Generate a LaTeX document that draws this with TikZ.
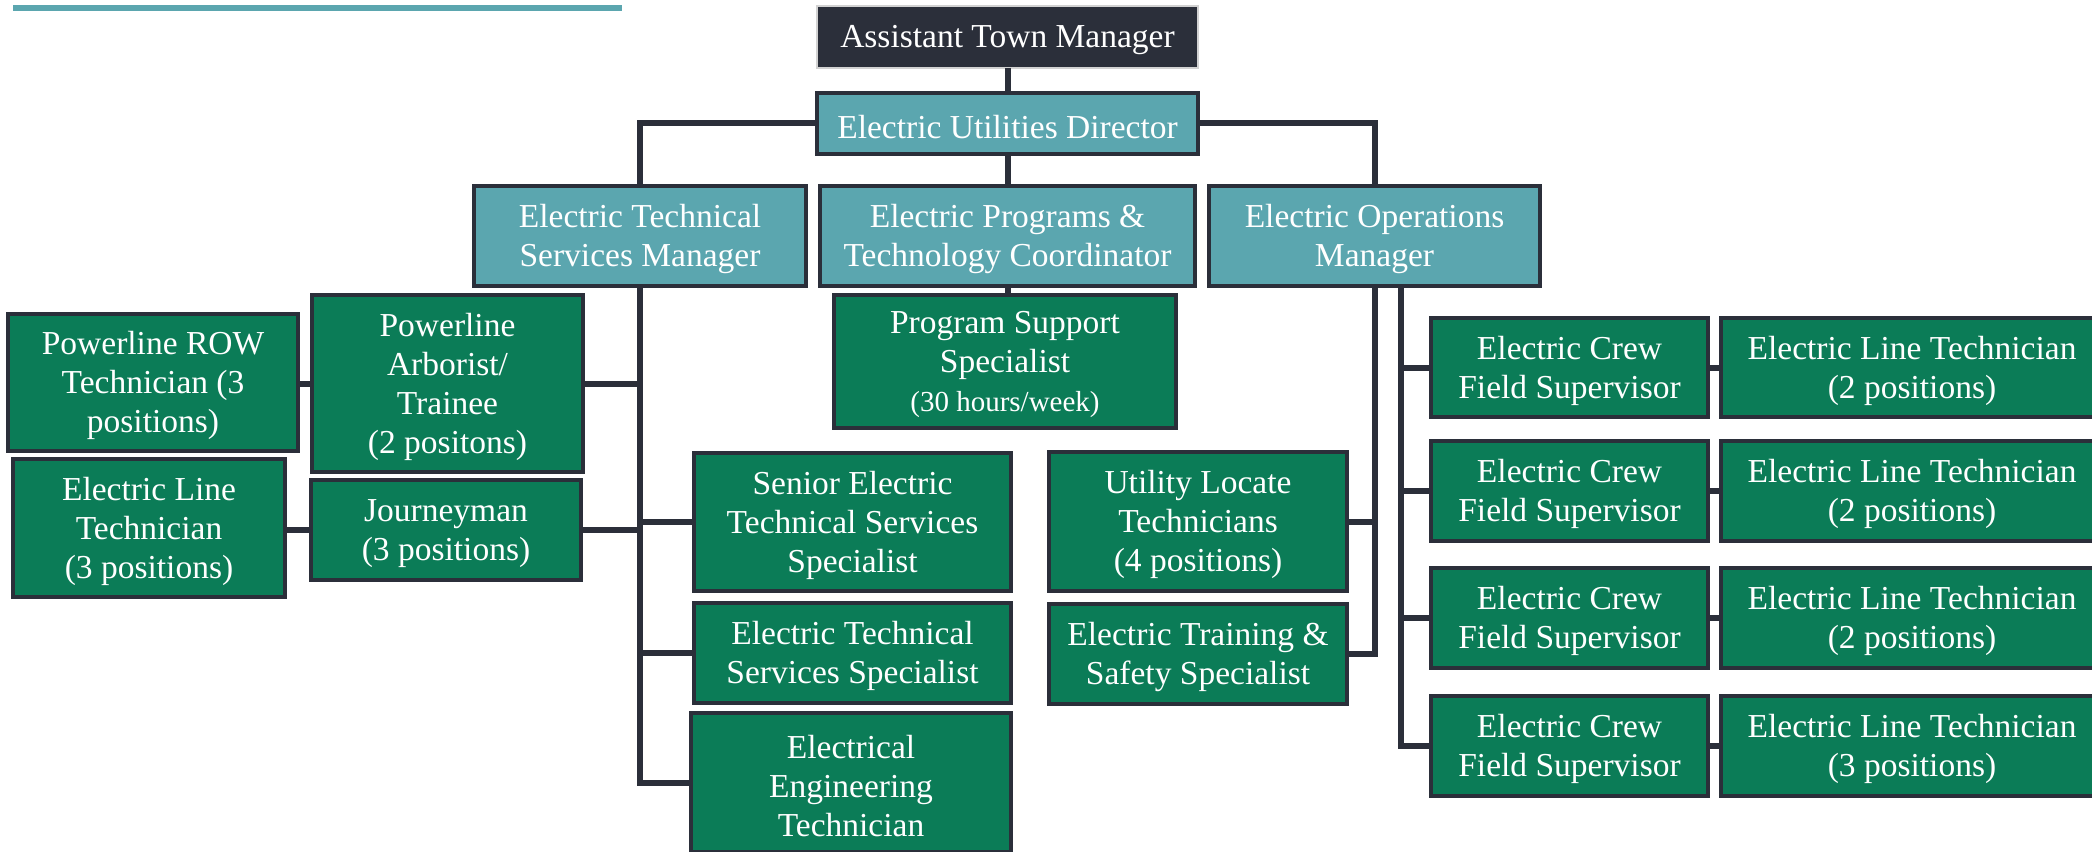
\documentclass[tikz,border=0pt]{standalone}
\usepackage{fontspec}
\setmainfont{Liberation Serif}
\definecolor{navy}{HTML}{2B2F3A}
\definecolor{tealc}{HTML}{5BA6AF}
\definecolor{greenc}{HTML}{0B7C57}
\tikzset{
  orgbase/.style={draw=navy, line width=1.8pt, inner sep=0pt, outer sep=0pt},
  orgtext/.style={text=white, align=center, inner sep=0pt, font=\fontsize{13.4}{15.6}\selectfont},
  topbox/.style={orgbase, fill=navy, draw=gray!35, line width=0.6pt},
  tealbox/.style={orgbase, fill=tealc},
  greenbox/.style={orgbase, fill=greenc},
  conn/.style={draw=navy, line width=2.4pt},
}
\newcommand{\orgbox}[7]{%
  \node[#2, minimum width={(#5-#3)*0.4pt}, minimum height={(#6-#4)*0.4pt}] (#1) at ({(#3+#5)/2},{(#4+#6)/2}) {};
  \node[orgtext] (#1-t) at ([yshift=-1.3pt]#1.center) {#7};}
\begin{document}
\begin{tikzpicture}[x=0.4pt, y=-0.4pt]
\useasboundingbox (0,0) rectangle (2092,852);
\clip (0,0) rectangle (2092,852);
\fill[tealc] (13,5) rectangle (622,11);

\orgbox{atm}{topbox}{817}{6}{1198}{68}{Assistant Town Manager}
\orgbox{eud}{tealbox}{817}{93}{1198}{154}{Electric Utilities Director}
\orgbox{etsm}{tealbox}{474}{186}{806}{286}{Electric Technical\\Services Manager}
\orgbox{eptc}{tealbox}{820}{186}{1195}{286}{Electric Programs \&\\Technology Coordinator}
\orgbox{eom}{tealbox}{1209}{186}{1540}{286}{Electric Operations\\Manager}

\orgbox{pss}{greenbox}{834}{295}{1176}{428}{Program Support\\Specialist\\{\fontsize{11.6}{13.5}\selectfont (30 hours/week)}}
\orgbox{row}{greenbox}{8}{314}{298}{451}{Powerline ROW\\Technician (3\\positions)}
\orgbox{arb}{greenbox}{312}{295}{583}{472}{Powerline\\Arborist/\\Trainee\\(2 positons)}
\orgbox{eltl}{greenbox}{13}{459}{285}{597}{Electric Line\\Technician\\(3 positions)}
\orgbox{jour}{greenbox}{311}{480}{581}{580}{Journeyman\\(3 positions)}
\orgbox{sets}{greenbox}{694}{453}{1011}{591}{Senior Electric\\Technical Services\\Specialist}
\orgbox{etss}{greenbox}{694}{603}{1011}{703}{Electric Technical\\Services Specialist}
\orgbox{eet}{greenbox}{691}{713}{1011}{852}{Electrical\\Engineering\\Technician}
\orgbox{ult}{greenbox}{1049}{452}{1347}{591}{Utility Locate\\Technicians\\(4 positions)}
\orgbox{saf}{greenbox}{1049}{604}{1347}{704}{Electric Training \&\\Safety Specialist}

\orgbox{cfa}{greenbox}{1431}{318}{1708}{417}{Electric Crew\\Field Supervisor}
\orgbox{cfb}{greenbox}{1431}{441}{1708}{541}{Electric Crew\\Field Supervisor}
\orgbox{cfc}{greenbox}{1431}{568}{1708}{668}{Electric Crew\\Field Supervisor}
\orgbox{cfd}{greenbox}{1431}{696}{1708}{796}{Electric Crew\\Field Supervisor}
\orgbox{lta}{greenbox}{1721}{318}{2103}{417}{Electric Line Technician\\(2 positions)}
\orgbox{ltb}{greenbox}{1721}{441}{2103}{541}{Electric Line Technician\\(2 positions)}
\orgbox{ltc}{greenbox}{1721}{568}{2103}{668}{Electric Line Technician\\(2 positions)}
\orgbox{ltd}{greenbox}{1721}{696}{2103}{796}{Electric Line Technician\\(3 positions)}

\draw[conn] (atm.south) -- (eud.north);
\draw[conn] (eud.west) -| (etsm.north);
\draw[conn] (eud.east) -| (eom.north);
\draw[conn] (eud.south) -- (eptc.north);
\draw[conn] (eptc.south) -- (eptc.south |- pss.north);

\draw[conn] (etsm.south) |- (arb.east);
\draw[conn] (etsm.south) |- (jour.east);
\draw[conn] (etsm.south) |- (sets.west);
\draw[conn] (etsm.south) |- (etss.west);
\draw[conn] (etsm.south) |- (eet.west);
\draw[conn] (arb.west) -- (arb.west -| row.east);
\draw[conn] (jour.west) -- (jour.west -| eltl.east);

\draw[conn] (eom.south) |- (ult.east);
\draw[conn] (eom.south) |- (saf.east);
\coordinate (eomb) at ([xshift=10.4pt]eom.south);
\draw[conn] (eomb) |- (cfa.west);
\draw[conn] (eomb) |- (cfb.west);
\draw[conn] (eomb) |- (cfc.west);
\draw[conn] (eomb) |- (cfd.west);
\draw[conn] (cfa.east) -- (lta.west);
\draw[conn] (cfb.east) -- (ltb.west);
\draw[conn] (cfc.east) -- (ltc.west);
\draw[conn] (cfd.east) -- (ltd.west);
\end{tikzpicture}
\end{document}
